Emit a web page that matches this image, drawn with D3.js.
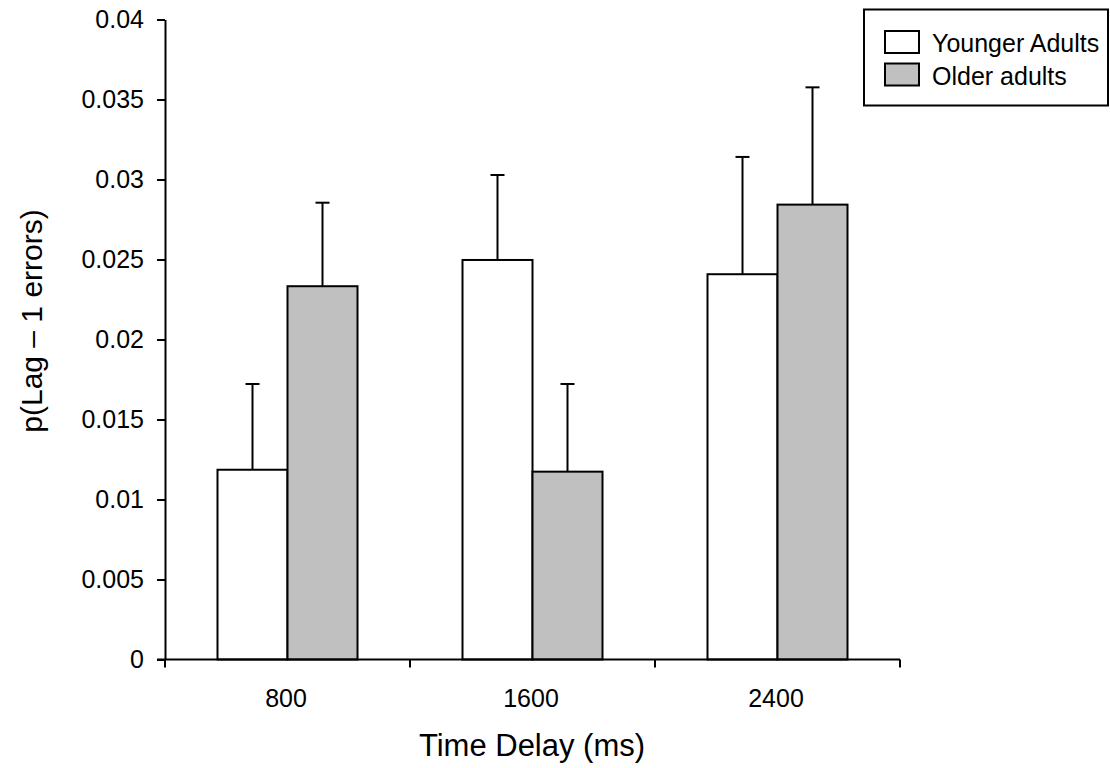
<!DOCTYPE html>
<html>
<head>
<meta charset="utf-8">
<script src="https://cdn.jsdelivr.net/npm/d3@7"></script>
<style>
  html, body { margin: 0; padding: 0; background: #fff; }
  svg text { font-family: "Liberation Sans", Arial, sans-serif; fill: #000; }
</style>
</head>
<body>
<svg id="chart" width="1110" height="768"></svg>
<script>
const categories = ["800", "1600", "2400"];
const seriesNames = ["Younger Adults", "Older adults"];
const youngerMeans = [0.01186, 0.02497, 0.02408];
const olderMeans = [0.02333, 0.01174, 0.02843];
const youngerErr = [0.00536, 0.00531, 0.00733];
const olderErr = [0.00522, 0.00548, 0.00733];
const yTicks = [0, 0.005, 0.01, 0.015, 0.02, 0.025, 0.03, 0.035, 0.04];
const yTickLabels = ["0", "0.005", "0.01", "0.015", "0.02", "0.025", "0.03", "0.035", "0.04"];
const fills = ["#ffffff", "#c0c0c0"];

const svg = d3.select("#chart");
const mLeft = 165, mRight = 900, mTop = 19.5, mBottom = 659.5;

const y = d3.scaleLinear().domain([0, 0.04]).range([mBottom, mTop]);
const x0 = d3.scaleBand().domain(categories).range([mLeft, mRight]).padding(0);
const x1 = d3.scaleBand().domain(seriesNames).range([0, x0.bandwidth()]).paddingInner(0).paddingOuter(0.75);

const data = [];
categories.forEach((c, i) => {
  data.push({cat: c, s: seriesNames[0], v: youngerMeans[i], e: youngerErr[i], fill: fills[0]});
  data.push({cat: c, s: seriesNames[1], v: olderMeans[i], e: olderErr[i], fill: fills[1]});
});

// error bars
const eb = svg.append("g");
data.forEach(d => {
  const cx = x0(d.cat) + x1(d.s) + x1.bandwidth() / 2;
  eb.append("line").attr("x1", cx).attr("x2", cx).attr("y1", y(d.v)).attr("y2", y(d.v + d.e))
    .attr("stroke", "#000").attr("stroke-width", 2);
  eb.append("line").attr("x1", cx - 7).attr("x2", cx + 7).attr("y1", y(d.v + d.e)).attr("y2", y(d.v + d.e))
    .attr("stroke", "#000").attr("stroke-width", 2);
});

// bars
svg.append("g").selectAll("rect").data(data).join("rect")
  .attr("x", d => x0(d.cat) + x1(d.s))
  .attr("y", d => y(d.v))
  .attr("width", x1.bandwidth())
  .attr("height", d => y(0) - y(d.v))
  .attr("fill", d => d.fill)
  .attr("stroke", "#000")
  .attr("stroke-width", 2);

// y axis
const yAxis = d3.axisLeft(y).tickValues(yTicks).tickFormat((d, i) => yTickLabels[i]).tickSize(8).tickSizeOuter(0).tickPadding(13);
const gy = svg.append("g").attr("transform", `translate(${mLeft},0)`).call(yAxis);
gy.select(".domain").attr("stroke", "#000").attr("stroke-width", 2);
gy.selectAll(".tick line").attr("stroke", "#000").attr("stroke-width", 2);
gy.selectAll(".tick text").attr("font-size", 25).attr("font-family", "Liberation Sans, Arial, sans-serif");

// x axis
const gx = svg.append("g").attr("transform", `translate(0,${mBottom})`);
gx.append("line").attr("x1", mLeft - 8).attr("x2", mRight).attr("y1", 0).attr("y2", 0)
  .attr("stroke", "#000").attr("stroke-width", 2);
const bounds = [mLeft, ...categories.map(c => x0(c) + x0.bandwidth())];
bounds.forEach(bx => {
  gx.append("line").attr("x1", bx).attr("x2", bx).attr("y1", 0).attr("y2", 8)
    .attr("stroke", "#000").attr("stroke-width", 2);
});
gx.selectAll("text.cat").data(categories).join("text")
  .attr("class", "cat")
  .attr("x", d => x0(d) + x0.bandwidth() / 2 - 1.5)
  .attr("y", 47)
  .attr("text-anchor", "middle")
  .attr("font-size", 25)
  .text(d => d);

// axis titles
svg.append("text").attr("x", 532).attr("y", 756).attr("text-anchor", "middle")
  .attr("font-size", 31).text("Time Delay (ms)");
svg.append("text").attr("transform", "translate(42,321) rotate(-90)").attr("text-anchor", "middle")
  .attr("font-size", 30).text("p(Lag \u2013 1 errors)");

// legend
const lg = svg.append("g");
lg.append("rect").attr("x", 864).attr("y", 9.5).attr("width", 244).attr("height", 96)
  .attr("fill", "#fff").attr("stroke", "#000").attr("stroke-width", 2);
seriesNames.forEach((s, i) => {
  const yy = 31 + i * 32.5;
  lg.append("rect").attr("x", 885).attr("y", yy).attr("width", 34).attr("height", 22)
    .attr("fill", fills[i]).attr("stroke", "#000").attr("stroke-width", 2);
  lg.append("text").attr("x", 932).attr("y", yy + 21).attr("font-size", 25).text(s);
});
</script>
</body>
</html>
